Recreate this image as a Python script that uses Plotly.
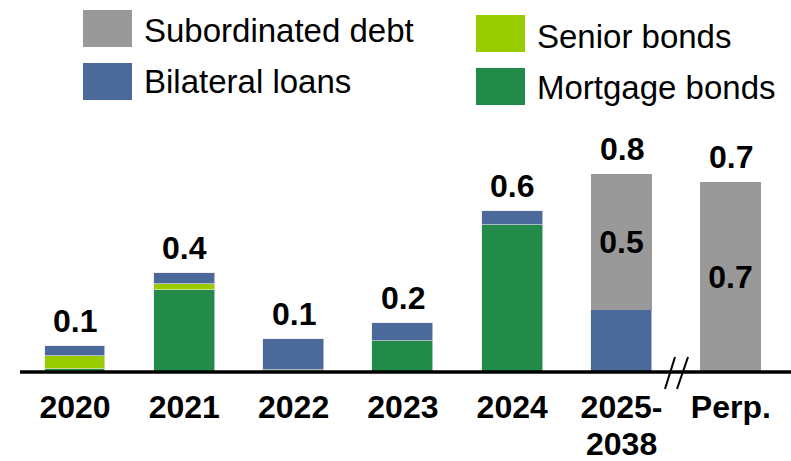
import plotly.graph_objects as go

# ---- data (EUR bn) ----
categories = ["2020", "2021", "2022", "2023", "2024", "2025-\n2038", "Perp."]
mortgage_bonds = [0.012, 0.332, 0.0, 0.126, 0.595, 0.0, 0.0]
senior_bonds = [0.053, 0.024, 0.008, 0.0, 0.0, 0.0, 0.0]
bilateral_loans = [0.040, 0.045, 0.126, 0.071, 0.057, 0.251, 0.0]
subordinated_debt = [0.0, 0.0, 0.0, 0.0, 0.0, 0.551, 0.769]
total_labels = ["0.1", "0.4", "0.1", "0.2", "0.6", "0.8", "0.7"]
sub_labels = ["", "", "", "", "", "0.5", "0.7"]

# ---- styling ----
W, H = 791, 461
PLOT_H = 372
FONT = "Arial, Liberation Sans, sans-serif"
C_SUB = "#999999"
C_BIL = "#4b6a9b"
C_SEN = "#99cc00"
C_MOR = "#228b4a"

x = list(range(len(categories)))
bar_w = 0.558
edge = dict(color="rgba(230,230,230,0.8)", width=0.8)

fig = go.Figure()
fig.add_bar(x=x, y=mortgage_bonds, marker=dict(color=C_MOR, line=edge), width=bar_w,
            showlegend=False, hoverinfo="skip")
fig.add_bar(x=x, y=senior_bonds, marker=dict(color=C_SEN, line=edge), width=bar_w,
            showlegend=False, hoverinfo="skip")
fig.add_bar(x=x, y=bilateral_loans, marker=dict(color=C_BIL, line=edge), width=bar_w,
            showlegend=False, hoverinfo="skip")
fig.add_bar(x=x, y=subordinated_debt, marker=dict(color=C_SUB, line=dict(width=0)), width=bar_w,
            text=sub_labels, textposition="inside", insidetextanchor="middle",
            textangle=0, constraintext="none",
            textfont=dict(family=FONT, size=32, color="black", weight="bold"),
            showlegend=False, hoverinfo="skip")

totals = [m + s + b + d for m, s, b, d in zip(mortgage_bonds, senior_bonds, bilateral_loans, subordinated_debt)]
for xi, t, lab in zip(x, totals, total_labels):
    fig.add_annotation(x=xi, y=t, text=lab, showarrow=False, yanchor="bottom", yshift=5,
                       font=dict(family=FONT, size=32, color="black", weight="bold"))

def px_x(p):
    return p / W

def px_y(p):
    return 1 - p / PLOT_H

# category labels: first line as tick label, further lines as annotations (tighter line spacing)
first_lines = [c.split("\n")[0] for c in categories]
for xi, c in zip(x, categories):
    parts = c.split("\n")
    for k, extra in enumerate(parts[1:], start=1):
        fig.add_annotation(x=xi, xref="x", yref="paper", y=px_y(408 + 36 * k), text=extra,
                           showarrow=False, yanchor="middle",
                           font=dict(family=FONT, size=32, color="black", weight="bold"))

shapes = []
# axis line
shapes.append(dict(type="line", xref="paper", yref="paper", x0=px_x(20), x1=1.0,
                   y0=px_y(372), y1=px_y(372), line=dict(color="black", width=3.5)))
# axis break slashes
for (x0, y0, x1, y1) in [(665, 389, 675, 357), (677, 389, 688, 357)]:
    shapes.append(dict(type="line", xref="paper", yref="paper", x0=px_x(x0), x1=px_x(x1),
                       y0=px_y(y0), y1=px_y(y1), line=dict(color="black", width=2)))

# legend
legend_items = [
    ("Subordinated debt", C_SUB, 83, 10, 30),
    ("Bilateral loans", C_BIL, 83, 63, 81.5),
    ("Senior bonds", C_SEN, 476, 15, 36),
    ("Mortgage bonds", C_MOR, 476, 68, 87),
]
for name, col, lx, ly, ty in legend_items:
    shapes.append(dict(type="rect", xref="paper", yref="paper", x0=px_x(lx), x1=px_x(lx + 49),
                       y0=px_y(ly), y1=px_y(ly + 37), fillcolor=col, line=dict(width=0)))
    fig.add_annotation(xref="paper", yref="paper", x=px_x(lx + 59), y=px_y(ty), text=name,
                       showarrow=False, xanchor="left", yanchor="middle",
                       font=dict(family=FONT, size=33, color="black"))

u = 109.3
r0 = -75 / u
r1 = r0 + W / u

fig.update_layout(
    width=W, height=H, barmode="stack", bargap=0,
    margin=dict(l=0, r=0, t=0, b=H - PLOT_H, autoexpand=False),
    plot_bgcolor="white", paper_bgcolor="white",
    shapes=shapes,
    xaxis=dict(range=[r0, r1], tickvals=x, ticktext=first_lines, showline=False,
               showgrid=False, zeroline=False, ticks="", ticklabelstandoff=13,
               tickfont=dict(family=FONT, size=32, color="black", weight="bold")),
    yaxis=dict(range=[0, PLOT_H / 247], visible=False, showgrid=False, zeroline=False),
)

fig.write_html("out.html", config={"displayModeBar": False},
               post_script="document.body.style.margin='0';document.body.style.overflow='hidden';")
